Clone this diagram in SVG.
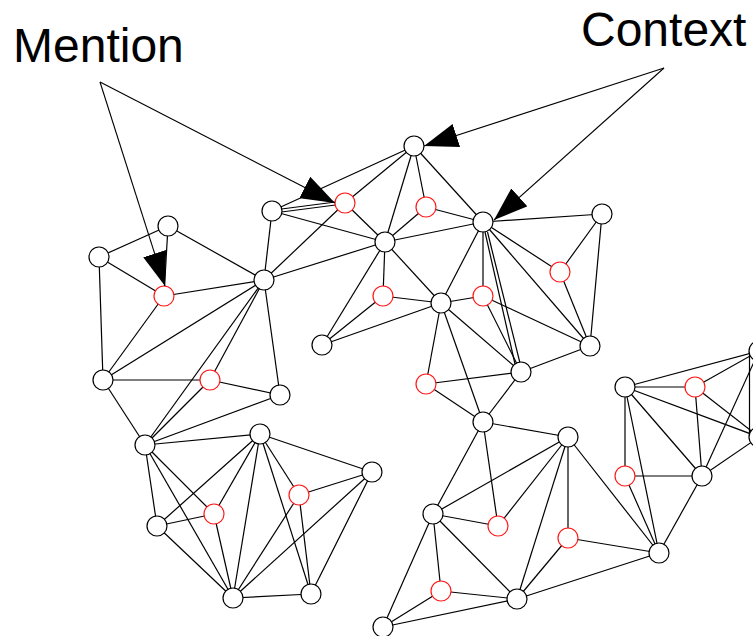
<svg xmlns="http://www.w3.org/2000/svg" width="753" height="636" viewBox="0 0 753 636">
<style>
.e line{stroke:#000;stroke-width:1.2;fill:none}
.n{fill:#fff;stroke:#000;stroke-width:1.2}
.r{fill:#fff;stroke:#ff1a1a;stroke-width:1.2}
.lbl{font-family:"Liberation Sans",Arial,sans-serif;font-size:48px;fill:#000}
.arr line{stroke:#000;stroke-width:1.1}
</style>
<defs>
<marker id="ah" markerUnits="userSpaceOnUse" markerWidth="35" markerHeight="24" refX="34" refY="12" orient="auto">
<path d="M0,0 L34,12 L0,24 z" fill="#000"/>
</marker>
</defs>
<rect width="753" height="636" fill="#fff"/>
<text class="lbl" x="13" y="62">Mention</text>
<text class="lbl" x="581" y="46">Context</text>
<g id="connectors" class="e">
<line x1="99" y1="257" x2="168" y2="226"/>
<line x1="168" y1="226" x2="264" y2="280"/>
<line x1="99" y1="257" x2="164" y2="296"/>
<line x1="168" y1="226" x2="164" y2="296"/>
<line x1="164" y1="296" x2="264" y2="280"/>
<line x1="99" y1="257" x2="103" y2="380"/>
<line x1="164" y1="296" x2="103" y2="380"/>
<line x1="103" y1="380" x2="264" y2="280"/>
<line x1="103" y1="380" x2="210" y2="380"/>
<line x1="210" y1="380" x2="280" y2="395"/>
<line x1="264" y1="280" x2="280" y2="395"/>
<line x1="264" y1="280" x2="210" y2="380"/>
<line x1="103" y1="380" x2="145" y2="445"/>
<line x1="264" y1="280" x2="145" y2="445"/>
<line x1="210" y1="380" x2="145" y2="445"/>
<line x1="145" y1="445" x2="280" y2="395"/>
<line x1="264" y1="280" x2="272" y2="211"/>
<line x1="264" y1="280" x2="345" y2="203"/>
<line x1="264" y1="280" x2="385" y2="242"/>
<line x1="414" y1="146" x2="272" y2="211"/>
<line x1="414" y1="146" x2="345" y2="203"/>
<line x1="414" y1="146" x2="385" y2="242"/>
<line x1="414" y1="146" x2="426" y2="207"/>
<line x1="414" y1="146" x2="483" y2="222"/>
<line x1="281.5" y1="209" x2="335.5" y2="202"/>
<line x1="281.5" y1="212" x2="335.5" y2="205"/>
<line x1="272" y1="211" x2="385" y2="242"/>
<line x1="345" y1="203" x2="385" y2="242"/>
<line x1="426" y1="207" x2="385" y2="242"/>
<line x1="426" y1="207" x2="483" y2="222"/>
<line x1="385" y1="242" x2="483" y2="222"/>
<line x1="385" y1="242" x2="383" y2="296"/>
<line x1="385" y1="242" x2="322" y2="345"/>
<line x1="385" y1="242" x2="441" y2="303"/>
<line x1="383" y1="296" x2="322" y2="345"/>
<line x1="383" y1="296" x2="441" y2="303"/>
<line x1="322" y1="345" x2="441" y2="303"/>
<line x1="483" y1="222" x2="602" y2="214"/>
<line x1="483" y1="222" x2="560" y2="272"/>
<line x1="483" y1="222" x2="590" y2="346"/>
<line x1="483" y1="222" x2="483" y2="296"/>
<line x1="485" y1="232" x2="515" y2="364"/>
<line x1="487.5" y1="232" x2="520" y2="363"/>
<line x1="483" y1="222" x2="441" y2="303"/>
<line x1="602" y1="214" x2="560" y2="272"/>
<line x1="602" y1="214" x2="590" y2="346"/>
<line x1="560" y1="272" x2="590" y2="346"/>
<line x1="483" y1="296" x2="590" y2="346"/>
<line x1="483" y1="296" x2="441" y2="303"/>
<line x1="483" y1="296" x2="521" y2="372"/>
<line x1="441" y1="303" x2="426" y2="384"/>
<line x1="441" y1="303" x2="483" y2="422"/>
<line x1="441" y1="303" x2="521" y2="372"/>
<line x1="426" y1="384" x2="521" y2="372"/>
<line x1="426" y1="384" x2="483" y2="422"/>
<line x1="521" y1="372" x2="483" y2="422"/>
<line x1="521" y1="372" x2="590" y2="346"/>
<line x1="483" y1="422" x2="568" y2="437"/>
<line x1="483" y1="422" x2="433" y2="514"/>
<line x1="483" y1="422" x2="498" y2="526"/>
<line x1="568" y1="437" x2="433" y2="514"/>
<line x1="568" y1="437" x2="498" y2="526"/>
<line x1="568" y1="437" x2="568" y2="538"/>
<line x1="568" y1="437" x2="517" y2="599"/>
<line x1="568" y1="437" x2="659" y2="553"/>
<line x1="433" y1="514" x2="498" y2="526"/>
<line x1="433" y1="514" x2="441" y2="591"/>
<line x1="433" y1="514" x2="517" y2="599"/>
<line x1="433" y1="514" x2="383" y2="627"/>
<line x1="441" y1="591" x2="383" y2="627"/>
<line x1="441" y1="591" x2="517" y2="599"/>
<line x1="383" y1="627" x2="517" y2="599"/>
<line x1="568" y1="538" x2="517" y2="599"/>
<line x1="568" y1="538" x2="659" y2="553"/>
<line x1="517" y1="599" x2="659" y2="553"/>
<line x1="625" y1="387" x2="759" y2="351"/>
<line x1="625" y1="387" x2="695" y2="387"/>
<line x1="625" y1="387" x2="759" y2="437"/>
<line x1="625" y1="387" x2="625" y2="476"/>
<line x1="625" y1="387" x2="702" y2="476"/>
<line x1="625" y1="387" x2="659" y2="553"/>
<line x1="695" y1="387" x2="759" y2="351"/>
<line x1="695" y1="387" x2="759" y2="437"/>
<line x1="695" y1="387" x2="702" y2="476"/>
<line x1="749.5" y1="351" x2="749.5" y2="437"/>
<line x1="759" y1="351" x2="702" y2="476"/>
<line x1="759" y1="437" x2="702" y2="476"/>
<line x1="625" y1="476" x2="702" y2="476"/>
<line x1="625" y1="476" x2="659" y2="553"/>
<line x1="702" y1="476" x2="659" y2="553"/>
<line x1="145" y1="445" x2="260" y2="434"/>
<line x1="145" y1="445" x2="157" y2="526"/>
<line x1="145" y1="445" x2="214" y2="514"/>
<line x1="145" y1="445" x2="233" y2="598"/>
<line x1="260" y1="434" x2="157" y2="526"/>
<line x1="260" y1="434" x2="214" y2="514"/>
<line x1="260" y1="434" x2="233" y2="598"/>
<line x1="260" y1="434" x2="372" y2="472"/>
<line x1="260" y1="434" x2="299" y2="495"/>
<line x1="260" y1="434" x2="311" y2="594"/>
<line x1="157" y1="526" x2="214" y2="514"/>
<line x1="157" y1="526" x2="233" y2="598"/>
<line x1="214" y1="514" x2="233" y2="598"/>
<line x1="299" y1="495" x2="372" y2="472"/>
<line x1="299" y1="495" x2="233" y2="598"/>
<line x1="299" y1="495" x2="311" y2="594"/>
<line x1="372" y1="472" x2="233" y2="598"/>
<line x1="372" y1="472" x2="311" y2="594"/>
<line x1="233" y1="598" x2="311" y2="594"/>
</g>
<g id="nodes">
<g id="a1"><circle class="n" cx="99" cy="257" r="10"/></g>
<g id="a2"><circle class="n" cx="168" cy="226" r="10"/></g>
<g id="a3"><circle class="r" cx="164" cy="296" r="10"/></g>
<g id="a4"><circle class="n" cx="264" cy="280" r="10"/></g>
<g id="a5"><circle class="n" cx="103" cy="380" r="10"/></g>
<g id="a6"><circle class="r" cx="210" cy="380" r="10"/></g>
<g id="a7"><circle class="n" cx="280" cy="395" r="10"/></g>
<g id="a8"><circle class="n" cx="145" cy="445" r="10"/></g>
<g id="b0"><circle class="n" cx="414" cy="146" r="10"/></g>
<g id="b1"><circle class="n" cx="272" cy="211" r="10"/></g>
<g id="b2"><circle class="r" cx="345" cy="203" r="10"/></g>
<g id="b3"><circle class="r" cx="426" cy="207" r="10"/></g>
<g id="b4"><circle class="n" cx="385" cy="242" r="10"/></g>
<g id="b5"><circle class="r" cx="383" cy="296" r="10"/></g>
<g id="b6"><circle class="n" cx="483" cy="222" r="10"/></g>
<g id="b7"><circle class="n" cx="441" cy="303" r="10"/></g>
<g id="b8"><circle class="n" cx="322" cy="345" r="10"/></g>
<g id="b9"><circle class="r" cx="483" cy="296" r="10"/></g>
<g id="c1"><circle class="n" cx="602" cy="214" r="10"/></g>
<g id="c2"><circle class="r" cx="560" cy="272" r="10"/></g>
<g id="c3"><circle class="n" cx="590" cy="346" r="10"/></g>
<g id="c4"><circle class="n" cx="521" cy="372" r="10"/></g>
<g id="c5"><circle class="r" cx="426" cy="384" r="10"/></g>
<g id="c6"><circle class="n" cx="483" cy="422" r="10"/></g>
<g id="d1"><circle class="n" cx="568" cy="437" r="10"/></g>
<g id="d2"><circle class="n" cx="433" cy="514" r="10"/></g>
<g id="d3"><circle class="r" cx="498" cy="526" r="10"/></g>
<g id="d4"><circle class="r" cx="568" cy="538" r="10"/></g>
<g id="d5"><circle class="n" cx="659" cy="553" r="10"/></g>
<g id="d6"><circle class="r" cx="441" cy="591" r="10"/></g>
<g id="d7"><circle class="n" cx="517" cy="599" r="10"/></g>
<g id="d8"><circle class="n" cx="383" cy="627" r="10"/></g>
<g id="e1"><circle class="n" cx="625" cy="387" r="10"/></g>
<g id="e2"><circle class="r" cx="695" cy="387" r="10"/></g>
<g id="e3"><circle class="n" cx="759" cy="351" r="10"/></g>
<g id="e4"><circle class="n" cx="759" cy="437" r="10"/></g>
<g id="e5"><circle class="r" cx="625" cy="476" r="10"/></g>
<g id="e6"><circle class="n" cx="702" cy="476" r="10"/></g>
<g id="f1"><circle class="n" cx="260" cy="434" r="10"/></g>
<g id="f2"><circle class="n" cx="372" cy="472" r="10"/></g>
<g id="f3"><circle class="r" cx="214" cy="514" r="10"/></g>
<g id="f4"><circle class="r" cx="299" cy="495" r="10"/></g>
<g id="f5"><circle class="n" cx="157" cy="526" r="10"/></g>
<g id="f6"><circle class="n" cx="233" cy="598" r="10"/></g>
<g id="f7"><circle class="n" cx="311" cy="594" r="10"/></g>
</g>
<g id="arrows" class="arr">
<line x1="100" y1="82" x2="165" y2="286" marker-end="url(#ah)"/>
<line x1="100" y1="82" x2="335" y2="203" marker-end="url(#ah)"/>
<line x1="664" y1="68" x2="424" y2="146" marker-end="url(#ah)"/>
<line x1="664" y1="68" x2="494" y2="220" marker-end="url(#ah)"/>
</g>
</svg>
